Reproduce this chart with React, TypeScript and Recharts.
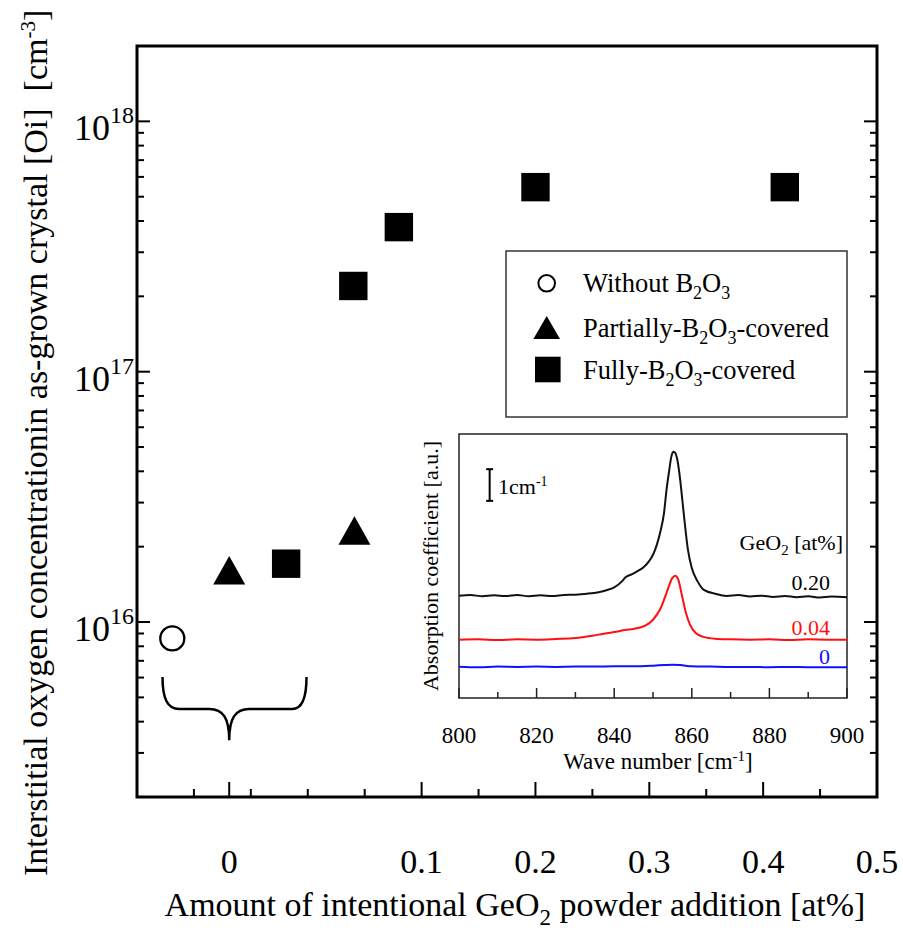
import React from "react";
import {
  Line,
  LineChart,
  ReferenceArea,
  ReferenceLine,
  Scatter,
  ScatterChart,
  XAxis,
  YAxis,
} from "recharts";

const FONT = '"Liberation Serif", "Times New Roman", serif';

// Main chart. The x axis is linear, the "0" group (three crystals) sits left of the break.
const withoutB2O3 = [{ x: -0.119, y: 8.6e15 }];
const partiallyCovered = [
  { x: -0.069, y: 1.54e16 },
  { x: 0.041, y: 2.22e16 },
];
const fullyCovered = [
  { x: -0.019, y: 1.71e16 },
  { x: 0.04, y: 2.2e17 },
  { x: 0.08, y: 3.78e17 },
  { x: 0.2, y: 5.46e17 },
  { x: 0.419, y: 5.46e17 },
];
const braceAnchor = [{ x: -0.069, y: 3.37e15 }];

const xMajorTicks = [-0.069, 0.1, 0.2, 0.3, 0.4, 0.5];
const xMajorLabels = ["0", "0.1", "0.2", "0.3", "0.4", "0.5"];
const xMinorTicks = [-0.1, -0.05, 0, 0.05, 0.15, 0.25, 0.35, 0.45];
const yMajorTicks = [1e16, 1e17, 1e18];
const yMajorExponents = ["16", "17", "18"];
const yMinorTicks = [
  3e15, 4e15, 5e15, 6e15, 7e15, 8e15, 9e15,
  2e16, 3e16, 4e16, 5e16, 6e16, 7e16, 8e16, 9e16,
  2e17, 3e17, 4e17, 5e17, 6e17, 7e17, 8e17, 9e17,
];

// Inset: IR absorption spectra, offset for clarity (units of cm-1)
const spectrum020 = [
  { wn: 800, a: 3.23 }, { wn: 803, a: 3.25 }, { wn: 806, a: 3.21 }, { wn: 809, a: 3.24 },
  { wn: 812, a: 3.22 }, { wn: 815, a: 3.25 }, { wn: 818, a: 3.21 }, { wn: 821, a: 3.24 },
  { wn: 824, a: 3.22 }, { wn: 827, a: 3.25 }, { wn: 830, a: 3.26 }, { wn: 833, a: 3.29 },
  { wn: 836, a: 3.34 }, { wn: 838, a: 3.4 }, { wn: 840, a: 3.49 }, { wn: 842, a: 3.68 },
  { wn: 843, a: 3.82 }, { wn: 844.5, a: 3.9 }, { wn: 846, a: 4.0 }, { wn: 847.5, a: 4.12 },
  { wn: 849, a: 4.32 }, { wn: 850, a: 4.52 }, { wn: 851, a: 4.84 }, { wn: 852, a: 5.3 },
  { wn: 852.8, a: 5.8 }, { wn: 853.5, a: 6.58 }, { wn: 854.2, a: 7.2 }, { wn: 854.7, a: 7.6 },
  { wn: 855.2, a: 7.77 }, { wn: 855.7, a: 7.74 }, { wn: 856.3, a: 7.5 }, { wn: 857, a: 6.89 },
  { wn: 857.6, a: 6.2 }, { wn: 858.2, a: 5.5 }, { wn: 859, a: 4.68 }, { wn: 860, a: 4.1 },
  { wn: 861.5, a: 3.68 }, { wn: 863, a: 3.42 }, { wn: 866, a: 3.29 }, { wn: 869, a: 3.22 },
  { wn: 872, a: 3.25 }, { wn: 875, a: 3.2 }, { wn: 878, a: 3.23 }, { wn: 881, a: 3.19 },
  { wn: 884, a: 3.22 }, { wn: 887, a: 3.18 }, { wn: 890, a: 3.21 }, { wn: 893, a: 3.17 },
  { wn: 896, a: 3.2 }, { wn: 900, a: 3.18 },
];
const spectrum004 = [
  { wn: 800, a: 1.84 }, { wn: 805, a: 1.85 }, { wn: 810, a: 1.83 }, { wn: 815, a: 1.85 },
  { wn: 820, a: 1.84 }, { wn: 825, a: 1.86 }, { wn: 830, a: 1.89 }, { wn: 836, a: 2.0 },
  { wn: 840, a: 2.08 }, { wn: 843, a: 2.15 }, { wn: 845, a: 2.18 }, { wn: 848, a: 2.28 },
  { wn: 850, a: 2.47 }, { wn: 852, a: 2.84 }, { wn: 853.5, a: 3.32 }, { wn: 855, a: 3.79 },
  { wn: 855.7, a: 3.86 }, { wn: 856.5, a: 3.74 }, { wn: 857.5, a: 3.21 }, { wn: 858.5, a: 2.68 },
  { wn: 859.5, a: 2.32 }, { wn: 861, a: 2.05 }, { wn: 863, a: 1.93 }, { wn: 866, a: 1.87 },
  { wn: 870, a: 1.85 }, { wn: 875, a: 1.84 }, { wn: 880, a: 1.85 }, { wn: 885, a: 1.83 },
  { wn: 890, a: 1.85 }, { wn: 895, a: 1.84 }, { wn: 900, a: 1.84 },
];
const spectrum000 = [
  { wn: 800, a: 0.99 }, { wn: 805, a: 0.97 }, { wn: 810, a: 0.99 }, { wn: 815, a: 0.98 },
  { wn: 820, a: 0.99 }, { wn: 825, a: 0.98 }, { wn: 830, a: 0.99 }, { wn: 835, a: 0.99 },
  { wn: 840, a: 1.0 }, { wn: 845, a: 1.0 }, { wn: 850, a: 1.02 }, { wn: 853, a: 1.04 },
  { wn: 855, a: 1.05 }, { wn: 857, a: 1.04 }, { wn: 860, a: 1.0 }, { wn: 865, a: 0.99 },
  { wn: 870, a: 0.98 }, { wn: 875, a: 0.98 }, { wn: 880, a: 0.97 }, { wn: 885, a: 0.98 },
  { wn: 890, a: 0.97 }, { wn: 895, a: 0.97 }, { wn: 900, a: 0.97 },
];
const insetMajorTicks = [800, 820, 840, 860, 880, 900];
const insetMinorTicks = [810, 830, 850, 870, 890];

function MainXTick(props: any) {
  const { x, y, payload } = props;
  const i = xMajorTicks.indexOf(payload.value);
  const len = i >= 0 ? 15 : 8;
  return (
    <g>
      <line x1={x} x2={x} y1={y} y2={y - len} stroke="#000" strokeWidth={2} />
      {i >= 0 && (
        <text x={x} y={y + 76} textAnchor="middle" fontSize={34} fontFamily={FONT} fill="#000">
          {xMajorLabels[i]}
        </text>
      )}
    </g>
  );
}

function MainYTick(props: any) {
  const { x, y, payload } = props;
  const i = yMajorTicks.indexOf(payload.value);
  const len = i >= 0 ? 13 : 7;
  return (
    <g>
      <line x1={x} x2={x + len} y1={y} y2={y} stroke="#000" strokeWidth={2} />
      {i >= 0 && (
        <text x={x - 3} y={y + 19} textAnchor="end" fontSize={36} fontFamily={FONT} fill="#000">
          <tspan>10</tspan>
          <tspan dy={-17} fontSize={24}>
            {yMajorExponents[i]}
          </tspan>
        </text>
      )}
    </g>
  );
}

function RightYTick(props: any) {
  const { x, y, payload } = props;
  const len = yMajorTicks.indexOf(payload.value) >= 0 ? 13 : 7;
  return <line x1={x} x2={x - len} y1={y} y2={y} stroke="#000" strokeWidth={2} />;
}

function InsetXTick(props: any) {
  const { x, y, payload } = props;
  const major = insetMajorTicks.indexOf(payload.value) >= 0;
  return (
    <g>
      <line x1={x} x2={x} y1={y} y2={y - (major ? 10 : 6)} stroke="#222" strokeWidth={1.5} />
      {major && (
        <text x={x} y={y + 45} textAnchor="middle" fontSize={23} fontFamily={FONT} fill="#000">
          {payload.value}
        </text>
      )}
    </g>
  );
}

const circleShape = (p: any) => (
  <circle cx={p.cx} cy={p.cy} r={12} fill="#fff" stroke="#000" strokeWidth={2.3} />
);
const triangleShape = (p: any) => (
  <path
    d={`M${p.cx},${p.cy - 19} L${p.cx + 16},${p.cy + 9.4} L${p.cx - 16},${p.cy + 9.4} Z`}
    fill="#000"
  />
);
const squareShape = (p: any) => (
  <rect x={p.cx - 14.2} y={p.cy - 14.2} width={28.4} height={28.4} fill="#000" />
);
const braceShape = (p: any) => (
  <path
    transform={`translate(${p.cx},${p.cy})`}
    d="M-66.7,-63.3 C-66.7,-42 -62,-31.3 -50,-31.3 L-20,-31.3 C-6,-31.3 0,-22 0,0 C0,-22 6,-31.3 20,-31.3 L63,-31.3 C73,-31.3 77.3,-42 77.3,-63.3"
    fill="none"
    stroke="#000"
    strokeWidth={2.5}
  />
);

function MainLegend() {
  const t = { fontSize: 26.5, fontFamily: FONT, fill: "#000" } as const;
  return (
    <svg width={344} height={168} style={{ display: "block" }}>
      <rect x={1} y={1} width={341} height={166} fill="#fff" stroke="#333" strokeWidth={1.5} />
      <circle cx={41.7} cy={33.3} r={8.3} fill="#fff" stroke="#000" strokeWidth={2} />
      <path d="M41.7,66 L55,89 L28.4,89 Z" fill="#000" />
      <rect x={30} y={106.7} width={25.6} height={25.6} fill="#000" />
      <text x={78} y={42} {...t}>
        <tspan>Without B</tspan>
        <tspan dy={7} fontSize={18}>2</tspan>
        <tspan dy={-7}>O</tspan>
        <tspan dy={7} fontSize={18}>3</tspan>
      </text>
      <text x={78} y={86.5} {...t}>
        <tspan>Partially-B</tspan>
        <tspan dy={7} fontSize={18}>2</tspan>
        <tspan dy={-7}>O</tspan>
        <tspan dy={7} fontSize={18}>3</tspan>
        <tspan dy={-7}>-covered</tspan>
      </text>
      <text x={78} y={128.5} {...t}>
        <tspan>Fully-B</tspan>
        <tspan dy={7} fontSize={18}>2</tspan>
        <tspan dy={-7}>O</tspan>
        <tspan dy={7} fontSize={18}>3</tspan>
        <tspan dy={-7}>-covered</tspan>
      </text>
    </svg>
  );
}

export default function App() {
  return (
    <div style={{ position: "absolute", left: 0, top: 0, width: 903, height: 935, background: "#fff" }}>
      <ScatterChart width={903} height={935} margin={{ top: 46, left: 136, right: 25, bottom: 137 }}>
        <XAxis
          type="number"
          dataKey="x"
          domain={[-0.15, 0.5]}
          allowDataOverflow
          ticks={[...xMajorTicks, ...xMinorTicks].sort((a, b) => a - b)}
          interval={0}
          height={1}
          axisLine={false}
          tickLine={false}
          tickSize={0}
          tickMargin={0}
          tick={<MainXTick />}
        />
        <YAxis
          type="number"
          dataKey="y"
          scale="log"
          domain={[2e15, 2e18]}
          allowDataOverflow
          ticks={[...yMinorTicks, ...yMajorTicks].sort((a, b) => a - b)}
          interval={0}
          width={1}
          axisLine={false}
          tickLine={false}
          tickSize={0}
          tickMargin={0}
          tick={<MainYTick />}
        />
        <YAxis
          yAxisId="right"
          orientation="right"
          type="number"
          scale="log"
          domain={[2e15, 2e18]}
          allowDataOverflow
          ticks={[...yMinorTicks, ...yMajorTicks].sort((a, b) => a - b)}
          interval={0}
          width={1}
          axisLine={false}
          tickLine={false}
          tickSize={0}
          tickMargin={0}
          tick={<RightYTick />}
        />
        <ReferenceArea
          x1={-0.15}
          x2={0.5}
          y1={2e15}
          y2={2e18}
          fill="none"
          stroke="#000"
          strokeWidth={3}
          ifOverflow="visible"
        />
        <Scatter name="brace" data={braceAnchor} shape={braceShape} isAnimationActive={false} />
        <Scatter name="Without B2O3" data={withoutB2O3} shape={circleShape} isAnimationActive={false} />
        <Scatter name="Partially-B2O3-covered" data={partiallyCovered} shape={triangleShape} isAnimationActive={false} />
        <Scatter name="Fully-B2O3-covered" data={fullyCovered} shape={squareShape} isAnimationActive={false} />
      </ScatterChart>

      <div style={{ position: "absolute", left: 505, top: 250 }}>
        <MainLegend />
      </div>

      <div style={{ position: "absolute", left: 400, top: 420, width: 480, height: 370 }}>
        <LineChart width={480} height={370} margin={{ top: 14, left: 59, right: 33, bottom: 91 }}>
          <XAxis
            type="number"
            dataKey="wn"
            domain={[800, 900]}
            allowDataOverflow
            ticks={[...insetMajorTicks, ...insetMinorTicks].sort((a, b) => a - b)}
            interval={0}
            height={1}
            axisLine={false}
            tickLine={false}
            tickSize={0}
            tickMargin={0}
            tick={<InsetXTick />}
          />
          <YAxis type="number" domain={[0, 8.33]} allowDataOverflow hide />
          <ReferenceArea x1={800} x2={900} y1={0} y2={8.33} fill="#fff" stroke="#222" strokeWidth={1.5} ifOverflow="visible" />
          <ReferenceLine segment={[{ x: 807.9, y: 6.22 }, { x: 807.9, y: 7.22 }]} stroke="#000" strokeWidth={2} />
          <ReferenceLine segment={[{ x: 807.0, y: 6.22 }, { x: 808.8, y: 6.22 }]} stroke="#000" strokeWidth={2} />
          <ReferenceLine segment={[{ x: 807.0, y: 7.22 }, { x: 808.8, y: 7.22 }]} stroke="#000" strokeWidth={2} />
          <Line data={spectrum000} dataKey="a" type="monotone" stroke="#1010ff" strokeWidth={2} dot={false} isAnimationActive={false} />
          <Line data={spectrum004} dataKey="a" type="monotone" stroke="#ff1010" strokeWidth={2} dot={false} isAnimationActive={false} />
          <Line data={spectrum020} dataKey="a" type="monotone" stroke="#111" strokeWidth={2} dot={false} isAnimationActive={false} />
        </LineChart>
      </div>

      <svg width={903} height={935} style={{ position: "absolute", left: 0, top: 0, pointerEvents: "none" }}>
        <text
          x={47}
          y={876}
          transform="rotate(-90 47 876)"
          fontSize={34}
          fontFamily={FONT}
          fill="#000"
        >
          <tspan>{"Interstitial oxygen concentrationin as-grown crystal [Oi]\u00a0 [cm"}</tspan>
          <tspan dy={-12} fontSize={21}>-3</tspan>
          <tspan dy={12}>]</tspan>
        </text>
        <text x={515} y={916} textAnchor="middle" fontSize={34} fontFamily={FONT} fill="#000">
          <tspan>Amount of intentional GeO</tspan>
          <tspan dy={9} fontSize={23}>2</tspan>
          <tspan dy={-9}> powder addition [at%]</tspan>
        </text>
        <text x={438} y={566} transform="rotate(-90 438 566)" textAnchor="middle" fontSize={22} fontFamily={FONT} fill="#000">
          Absorption coefficient [a.u.]
        </text>
        <text x={658} y={769} textAnchor="middle" fontSize={23} fontFamily={FONT} fill="#000">
          <tspan>Wave number [cm</tspan>
          <tspan dy={-8} fontSize={15}>-1</tspan>
          <tspan dy={8}>]</tspan>
        </text>
        <text x={498} y={494} fontSize={22} fontFamily={FONT} fill="#000">
          <tspan>1cm</tspan>
          <tspan dy={-8} fontSize={14}>-1</tspan>
        </text>
        <text x={843} y={550} textAnchor="end" fontSize={22} fontFamily={FONT} fill="#000">
          <tspan>GeO</tspan>
          <tspan dy={5} fontSize={15}>2</tspan>
          <tspan dy={-5}> [at%]</tspan>
        </text>
        <text x={830} y={590} textAnchor="end" fontSize={22} fontFamily={FONT} fill="#000">0.20</text>
        <text x={830} y={635} textAnchor="end" fontSize={22} fontFamily={FONT} fill="#ff1010">0.04</text>
        <text x={830} y={664} textAnchor="end" fontSize={22} fontFamily={FONT} fill="#1010ff">0</text>
      </svg>
    </div>
  );
}
